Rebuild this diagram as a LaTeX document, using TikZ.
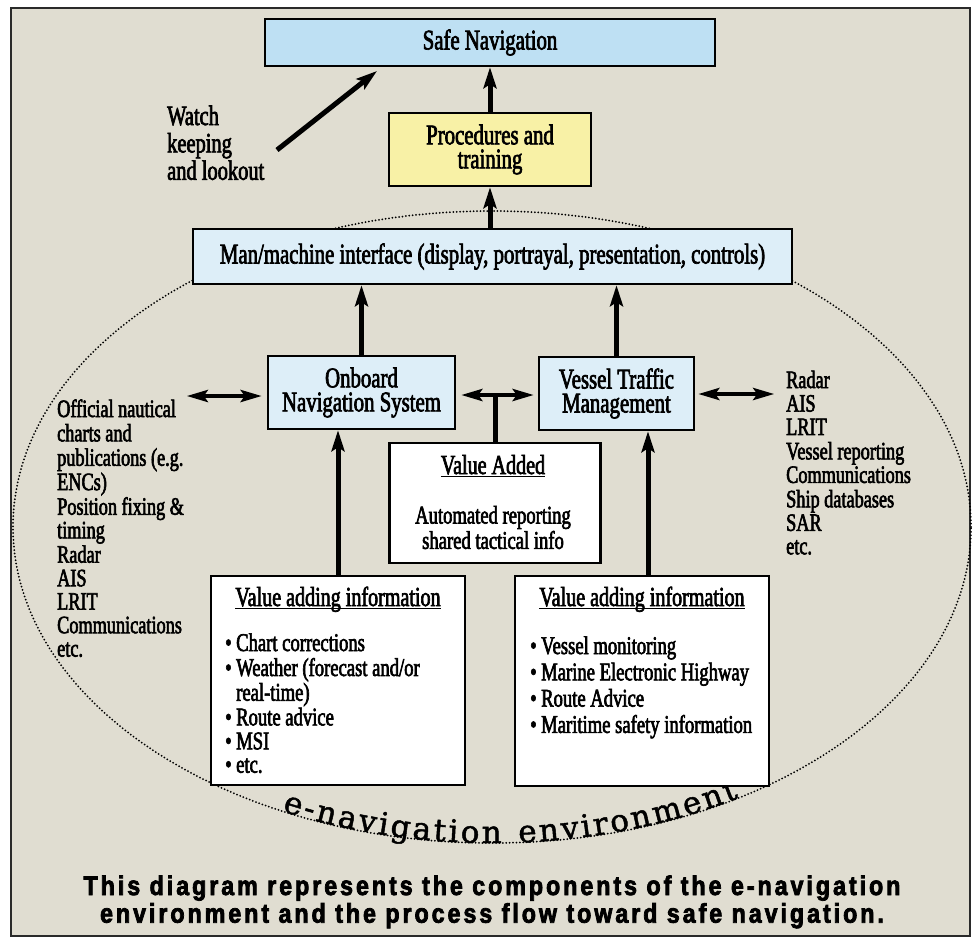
\documentclass[tikz,border=0pt]{standalone}
\usepackage{fontspec}
\setmainfont[FakeStretch=0.73, FakeBold=2.4]{Liberation Serif}
\newfontfamily\capfont[FakeStretch=0.86, LetterSpace=11, BoldFeatures={FakeBold=2.8}]{Liberation Sans}
\newfontfamily\arcfont[FakeBold=1.5, LetterSpace=6]{DejaVu Serif}
\usetikzlibrary{arrows.meta, decorations.text, calc}

\definecolor{bg}{HTML}{E0DDD1}
\definecolor{skyA}{HTML}{BEE0F3}
\definecolor{skyB}{HTML}{DDEEF8}
\definecolor{pale}{HTML}{F8F1A6}
\definecolor{framec}{HTML}{2A2A2A}

% text with a rule just under the baseline
\newcommand\ulin[1]{\setbox0=\hbox{#1}\rlap{\rule[-3pt]{\wd0}{1.2pt}}\box0}
% several lines, the first one carrying the baseline
\newcommand\tlines[2]{\begin{tabular}[t]{@{}#1@{}}#2\end{tabular}}

\tikzset{
  box/.style={draw=black, line width=2.5pt, inner sep=0pt, align=center,
    font=\fontsize{28.5}{24}\selectfont},
  txt/.style={inner sep=0pt},
  arr/.style={line width=5pt, -{Stealth[length=21pt, width=13pt, inset=4pt]}},
  dbl/.style={line width=4pt,
    {Stealth[length=21pt, width=12pt, inset=4pt]}-{Stealth[length=21pt, width=12pt, inset=4pt]}},
  stem/.style={line width=5pt},
  dotline/.style={line width=2pt, line cap=round, dash pattern=on 0pt off 3.4pt},
}

\begin{document}
\begin{tikzpicture}[x=1pt, y=-1pt]
% page and frame
\path[use as bounding box, fill=white] (0,0) rectangle (977,938);
\draw[fill=bg, draw=framec, line width=2.5pt] (11,8) rectangle (970,936);

% e-navigation environment
\coordinate (ec) at (492,527);
\draw[dotline] (ec) ellipse [x radius=479pt, y radius=316pt];
\path[decorate, decoration={text along path,
    text={|\arcfont\fontsize{31}{31}\selectfont|e-navigation environment},
    text align=fit to path}]
  ([shift={(ec)}]244:479pt and 316pt)
  arc[start angle=244, end angle=301, x radius=479pt, y radius=316pt];

% boxes
\node[box, fill=skyA, minimum width=450pt, minimum height=47pt] (safe) at (490,42.5) {Safe Navigation};
\node[box, fill=pale, minimum width=202pt, minimum height=73pt] (proc) at (490,149.5) {Procedures and\\training};
\node[box, fill=skyB, minimum width=599pt, minimum height=55pt] (mmi) at (492.5,256.5)
  {Man/machine interface (display, portrayal, presentation, controls)};
\node[box, fill=skyB, minimum width=187pt, minimum height=73pt] (onb) at (361.5,392.5) {Onboard\\Navigation System};
\node[box, fill=skyB, minimum width=155pt, minimum height=73pt] (vtm) at (616.5,393.5) {Vessel Traffic\\Management};
\node[box, fill=white, minimum width=211pt, minimum height=120pt] (vadd) at (495,503) {};
\node[box, fill=white, minimum width=254pt, minimum height=209pt] (vl) at (338,680.5) {};
\node[box, fill=white, minimum width=254pt, minimum height=210pt] (vr) at (642,681) {};

% box contents
\node[txt, anchor=base, font=\fontsize{25.5}{24.5}\selectfont] (vaddtxt) at (493,474)
  {\tlines{c}{{\fontsize{27.5}{24.5}\selectfont\ulin{Value Added}}\\ \\ Automated reporting\\ shared tactical info}};
\node[txt, anchor=base, font=\fontsize{27.5}{24}\selectfont] (vltitle) at (338,606) {\ulin{Value adding information}};
\node[txt, anchor=base, font=\fontsize{27.5}{24}\selectfont] (vrtitle) at (642,606) {\ulin{Value adding information}};
\node[txt, anchor=base west, font=\fontsize{25.5}{23.4}\selectfont] (vllist) at (225,651)
  {\tlines{l@{\hspace{4.5pt}}l}{\textbullet & Chart corrections\\
    \textbullet & Weather (forecast and/or\\
     & real-time)\\
    \textbullet & Route advice\\
    \textbullet & MSI\\
    \textbullet & etc.}};
\node[txt, anchor=base west, font=\fontsize{25.5}{26.3}\selectfont] (vrlist) at (530,654)
  {\tlines{l@{\hspace{4.5pt}}l}{\textbullet & Vessel monitoring\\
    \textbullet & Marine Electronic Highway\\
    \textbullet & Route Advice\\
    \textbullet & Maritime safety information}};

% side lists
\node[txt, anchor=base west, font=\fontsize{25}{23.4}\selectfont] (leftlist) at (57,417)
  {\tlines{l}{Official nautical\\ charts and\\ publications (e.g.\\ ENCs)\\ Position fixing \&\\ timing\\
    Radar\\ AIS\\ LRIT\\ Communications\\ etc.}};
\node[txt, anchor=base west, font=\fontsize{25}{23.4}\selectfont] (rightlist) at (786,388)
  {\tlines{l}{Radar\\ AIS\\ LRIT\\ Vessel reporting\\ Communications\\ Ship databases\\ SAR\\ etc.}};
\node[txt, anchor=base west, font=\fontsize{28}{26.5}\selectfont] (watch) at (167,125)
  {\tlines{l}{Watch\\ keeping\\ and lookout}};

% flow towards safe navigation
\draw[arr] (proc.north) -- (proc.north |- safe.south);
\draw[arr] (proc.south |- mmi.north) -- (proc.south);
\draw[arr] (onb.north) -- (onb.north |- mmi.south);
\draw[arr] (vtm.north) -- (vtm.north |- mmi.south);
\draw[arr] (vl.north) -- (vl.north |- onb.south);
\draw[arr] ($(vr.north)+(6,0)$) coordinate (vra) -- (vra |- vtm.south);

% value added link between the two systems
\coordinate (ha) at ($(onb.east)+(5,2.5)$);
\coordinate (hb) at ($(vtm.west |- ha)+(-4,0)$);
\draw[stem] (vadd.north) -- (vadd.north |- ha);
\draw[dbl] (ha) -- (hb);

% exchanges with the outside sources
\coordinate (lfree) at ($(onb.west)+(-80,3.5)$);
\draw[dbl] (lfree) -- ($(onb.west)+(-5,3.5)$);
\coordinate (rfree) at ($(vtm.east)+(79,0.5)$);
\draw[dbl] ($(vtm.east)+(3,0.5)$) -- (rfree);

% watch keeping
\coordinate (wfrom) at (277,150);
\coordinate (wto) at (377,71);
\draw[arr] (wfrom) -- (wto);

% caption
\node[anchor=base, font=\capfont\bfseries\fontsize{27}{27}\selectfont] (cap) at (492,895)
  {\tlines{c}{This diagram represents the components of the e-navigation\\
    environment and the process flow toward safe navigation.}};
\end{tikzpicture}
\end{document}
